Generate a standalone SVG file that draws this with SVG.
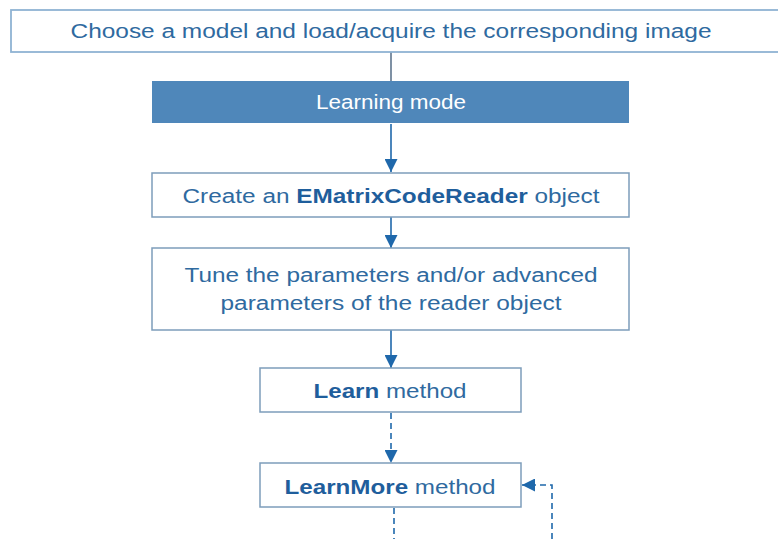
<svg xmlns="http://www.w3.org/2000/svg" width="778" height="539" viewBox="0 0 778 539">
<style>
  text{font-family:"Liberation Sans",Arial,sans-serif;font-size:20px;fill:#2f6aa0;text-anchor:middle}
  .b{font-weight:bold;fill:#1f5e9c}
  .box{fill:#ffffff;stroke:#7d9dbb;stroke-width:1.5}
  .con{stroke:#1f68ab;stroke-width:1.6;fill:none}
  .dash{stroke-dasharray:6,4}
</style>
<defs>
  <marker id="ah2" viewBox="0 0 10 10" refX="10" refY="5" markerWidth="13" markerHeight="13" markerUnits="userSpaceOnUse" orient="auto">
    <path d="M0,0 L10,5 L0,10 z" fill="#1f68ab"/>
  </marker>
</defs>
<rect width="778" height="539" fill="#ffffff"/>
<g id="connectors">
  <line x1="391" y1="52" x2="391" y2="81" stroke="#3a5674" stroke-width="1.3"/>
  <line class="con" x1="391" y1="124" x2="391" y2="172" marker-end="url(#ah2)"/>
  <line class="con" x1="391" y1="217" x2="391" y2="248" marker-end="url(#ah2)"/>
  <line class="con" x1="391" y1="330" x2="391" y2="368" marker-end="url(#ah2)"/>
  <line class="con dash" x1="391" y1="413" x2="391" y2="463" marker-end="url(#ah2)"/>
  <line class="con dash" x1="394" y1="508" x2="394" y2="539"/>
  <polyline class="con dash" points="552,539 552,485 522,485" marker-end="url(#ah2)"/>
</g>
<g id="n-choose">
  <rect x="11" y="10" width="780" height="42" fill="#ffffff" stroke="#8fb3d3" stroke-width="1.8"/>
  <text x="391" y="38" textLength="641" lengthAdjust="spacingAndGlyphs">Choose a model and load/acquire the corresponding image</text>
</g>
<g id="n-learning">
  <rect x="152" y="81" width="477" height="42" fill="#4f87ba"/>
  <text x="391" y="109" style="fill:#ffffff" textLength="150" lengthAdjust="spacingAndGlyphs">Learning mode</text>
</g>
<g id="n-create">
  <rect class="box" x="152" y="173" width="477" height="44"/>
  <text x="391" y="203" textLength="417" lengthAdjust="spacingAndGlyphs">Create an <tspan class="b">EMatrixCodeReader</tspan> object</text>
</g>
<g id="n-tune">
  <rect class="box" x="152" y="248" width="477" height="82"/>
  <text x="391" y="282" textLength="413" lengthAdjust="spacingAndGlyphs">Tune the parameters and/or advanced</text>
  <text x="391" y="310" textLength="341" lengthAdjust="spacingAndGlyphs">parameters of the reader object</text>
</g>
<g id="n-learn">
  <rect class="box" x="260" y="368" width="261" height="44"/>
  <text x="390" y="398" textLength="153" lengthAdjust="spacingAndGlyphs"><tspan class="b">Learn</tspan> method</text>
</g>
<g id="n-learnmore">
  <rect class="box" x="260" y="463" width="261" height="44"/>
  <text x="390" y="494" textLength="211" lengthAdjust="spacingAndGlyphs"><tspan class="b">LearnMore</tspan> method</text>
</g>
</svg>
